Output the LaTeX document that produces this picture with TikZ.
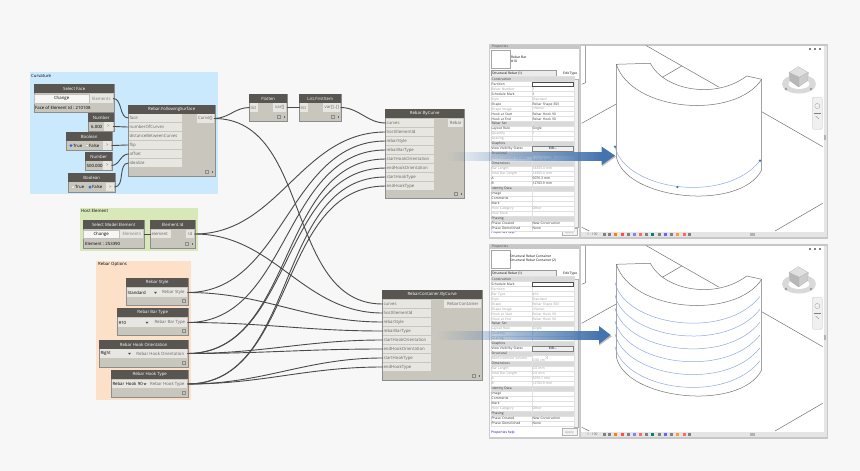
\documentclass[tikz,border=0pt]{standalone}
\usepackage{fontspec}
\setmainfont{Open Sans}
\usetikzlibrary{fadings}
\definecolor{pagec}{HTML}{F7F7F7}
\definecolor{headc}{HTML}{595652}
\definecolor{bodyc}{HTML}{C9C6BD}
\definecolor{portc}{HTML}{E7E6E1}
\definecolor{wirec}{HTML}{4A4A48}
\definecolor{curvec}{HTML}{CBE9FD}
\definecolor{hostc}{HTML}{D9E8B8}
\definecolor{optionc}{HTML}{FDE0C8}
\definecolor{secc}{HTML}{D9D9D9}
\definecolor{offc}{HTML}{9A9A9A}
\definecolor{onc}{HTML}{333333}
\definecolor{rebarc}{HTML}{8FA9E6}
\definecolor{arrowc}{HTML}{4474AE}
\tikzset{
  dyntext/.style={font=\fontsize{4.3}{5}\selectfont},
  dynbody/.style={draw=black!45, line width=0.4pt, fill=bodyc, anchor=north west, inner sep=0pt},
  dynhead/.style={fill=headc, text=white, dyntext, anchor=north west, inner sep=0pt, minimum height=9pt},
  port/.style={fill=portc, text=black!60, dyntext, inner sep=0.8pt, minimum height=8.4pt, anchor=west},
  inport/.style={port, text width=#1, align=left},
  outport/.style={port, anchor=east},
  drop/.style={fill=portc, text=black, dyntext, inner sep=0.8pt, minimum height=8.4pt, anchor=west, text width=#1},
  button/.style={fill=white!85!bodyc, draw=black!25, line width=0.2pt, text=black, dyntext, inner sep=0pt, minimum height=8.4pt, anchor=west},
  plain/.style={text=black, dyntext, inner sep=0pt, anchor=west},
  radio/.style={circle, draw=black!40, line width=0.2pt, inner sep=0pt, minimum size=3pt},
  groupbox/.style={anchor=north west, inner sep=0pt},
  wire/.style={draw=wirec, line width=0.9pt},
  link/.style={out=0, in=180},
  lace/.style={draw=black!45, line width=0.25pt, inner sep=0pt, minimum size=2.6pt},
  proptext/.style={font=\fontsize{3.3}{4}\selectfont},
  propcell/.style={proptext, draw=black!12, line width=0.15pt, inner sep=0.6pt, minimum height=4.97pt, text depth=0pt, anchor=west, align=left},
  viewline/.style={draw=black!55, line width=0.5pt},
  rebarline/.style={draw=rebarc, line width=0.5pt},
}
\newcommand{\dynnode}[6]{
  \node[dynbody, minimum width=#4pt, minimum height=#5pt] (#1) at (#2,#3) {};
  \node[dynhead, minimum width=#4pt] (#1head) at (#1.north west) {#6};
}
\newcommand{\lacemark}[1]{
  \node[lace] (#1lace) at ([xshift=-5pt,yshift=4.5pt]#1.south east) {};
}
\newcommand{\lacetick}[1]{
  \node[lace] (#1lace) at ([xshift=-9pt,yshift=4.5pt]#1.south east) {};
  \draw[black!60, line width=0.4pt] ([xshift=-3pt,yshift=3.3pt]#1.south east) -- ([xshift=-3pt,yshift=5.7pt]#1.south east);
}
\begin{document}
\begin{tikzpicture}[x=1pt, y=-1pt]
\useasboundingbox (0,0) rectangle (860,471);
\fill[pagec] (0,0) rectangle (860,471);

% groups
\node[groupbox, fill=curvec, minimum width=188pt, minimum height=122pt] (curvature) at (30,72) {};
\node[plain] (curvatureLabel) at (31,75.5) {Curvature};
\node[groupbox, fill=hostc, minimum width=118pt, minimum height=43pt] (host) at (80,208) {};
\node[plain] (hostLabel) at (81,210.5) {Host Element};
\node[groupbox, fill=optionc, minimum width=95pt, minimum height=139pt] (options) at (96,261) {};
\node[plain] (optionsLabel) at (98,264) {Rebar Options};

% curvature nodes
\dynnode{selFace}{34}{84}{80}{28}{Select Face}
\node[button, minimum width=55pt] (selFaceBtn) at (34,98.5) {Change};
\node[outport, text=black!50, minimum width=23pt] (selFaceOut) at (113,98.5) {Elements};
\node[plain] (selFaceInfo) at (35,107.5) {Face of Element Id : 210108};

\dynnode{numA}{88}{113}{26}{18}{Number}
\node[plain] (numAVal) at (91,126.5) {6.000};
\node[outport, minimum width=9pt] (numAOut) at (113,126.5) {>};

\dynnode{boolA}{66}{132}{46}{18}{Boolean}
\node[radio, fill=blue!60!cyan] (boolAt) at (71,145.5) {};
\node[plain] (boolAtText) at (73,145.5) {True};
\node[radio, fill=white] (boolAf) at (87,145.5) {};
\node[plain] (boolAfText) at (89,145.5) {False};
\node[outport, minimum width=8pt] (boolAOut) at (111.5,145.5) {>};

\dynnode{numB}{85}{152}{27}{18}{Number}
\node[plain] (numBVal) at (86.5,165.5) {500.000};
\node[outport, minimum width=8pt] (numBOut) at (111.5,165.5) {>};

\dynnode{boolB}{68}{173}{47}{19}{Boolean}
\node[radio, fill=white] (boolBt) at (73,187) {};
\node[plain] (boolBtText) at (75,187) {True};
\node[radio, fill=blue!60!cyan] (boolBf) at (90,187) {};
\node[plain] (boolBfText) at (92,187) {False};
\node[outport, minimum width=8pt] (boolBOut) at (114.5,187) {>};

\dynnode{follow}{128}{105}{87}{71}{Rebar.FollowingSurface}
\foreach \t [count=\i] in {face,numberOfCurves,distanceBetweenCurves,flip,offset,idealize}
  \node[inport=52pt] (fs\i) at (128.5,{109+9*\i}) {\t};
\node[outport, minimum width=17pt] (followOut) at (214,118.5) {Curve[]};
\lacetick{follow}

% host nodes
\dynnode{selEl}{83}{220}{61}{28}{Select Model Element}
\node[button, minimum width=36pt] (selElBtn) at (83,234) {Change};
\node[outport, text=black!50, minimum width=23pt] (selElOut) at (143.5,234) {Elements};
\node[plain] (selElInfo) at (85,243.5) {Element : 253390};

\dynnode{elId}{150}{220}{45}{28}{Element.Id}
\node[inport=19pt] (elIdIn) at (150.5,234) {element};
\node[outport, minimum width=8pt] (elIdOut) at (194.5,234) {Id};
\lacetick{elId}

% option nodes
\dynnode{style}{126}{278}{62}{27}{Rebar Style}
\node[drop=31pt] (styleDrop) at (126.5,292.5) {Standard};
\node[outport, minimum width=28pt] (styleOut) at (187.5,292.5) {Rebar Style};
\lacemark{style}

\dynnode{barType}{117}{308}{71}{27}{Rebar Bar Type}
\node[drop=33pt] (barTypeDrop) at (117.5,322.5) {\#10};
\node[outport, minimum width=35pt] (barTypeOut) at (187.5,322.5) {Rebar Bar Type};
\lacemark{barType}

\dynnode{hookOr}{99}{340}{89}{27}{Rebar Hook Orientation}
\node[drop=32pt] (hookOrDrop) at (99.5,353.5) {Right};
\node[outport, minimum width=54pt] (hookOrOut) at (187.5,353.5) {Rebar Hook Orientation};
\lacemark{hookOr}

\dynnode{hookTy}{111}{370}{77}{27}{Rebar Hook Type}
\node[drop=35pt] (hookTyDrop) at (111.5,384) {Rebar Hook 90};
\node[outport, minimum width=40pt] (hookTyOut) at (187.5,384) {Rebar Hook Type};
\lacemark{hookTy}

\foreach \x/\y in {154/292.5,145.5/322.5,128/353.5,143.5/384}
  \fill[black!75] (\x,\y-0.7) -- ++(3,0) -- ++(-1.5,1.8) -- cycle;

% list nodes
\dynnode{flatten}{249}{94}{38}{27}{Flatten}
\node[inport=7pt] (flatIn) at (249.5,107.5) {list};
\node[outport, minimum width=13pt] (flatOut) at (286.5,107.5) {var[]};
\lacetick{flatten}

\dynnode{first}{299}{94}{42}{27}{List.FirstItem}
\node[inport=7pt] (firstIn) at (299.5,107.5) {list};
\node[outport, minimum width=17pt] (firstOut) at (340.5,107.5) {var[]..[]};
\lacetick{first}

% rebar nodes
\dynnode{byCurve}{385}{109}{79}{89}{Rebar.ByCurve}
\foreach \t [count=\i] in {curves,hostElementId,rebarStyle,rebarBarType,startHookOrientation,endHookOrientation,startHookType,endHookType}
  \node[inport=47pt] (bc\i) at (385.5,{114+9*\i}) {\t};
\node[outport, minimum width=15pt] (byCurveOut) at (463.5,123) {Rebar};
\lacetick{byCurve}

\dynnode{container}{382}{290}{100}{90}{RebarContainer.ByCurve}
\foreach \t [count=\i] in {curves,hostElementId,rebarStyle,rebarBarType,startHookOrientation,endHookOrientation,startHookType,endHookType}
  \node[inport=47pt] (rc\i) at (382.5,{295+9*\i}) {\t};
\node[outport, minimum width=37pt] (containerOut) at (481.5,304) {RebarContainer};
\lacetick{container}

% wires
\foreach \a/\b in {selFaceOut/fs1,numAOut/fs2,boolAOut/fs4,numBOut/fs5,boolBOut/fs6,
    followOut/flatIn,followOut/rc1,flatOut/firstIn,firstOut/bc1,selElOut/elIdIn,
    elIdOut/bc2,elIdOut/rc2,styleOut/bc3,styleOut/rc3,barTypeOut/bc4,barTypeOut/rc4,
    hookOrOut/bc5,hookOrOut/bc6,hookOrOut/rc5,hookOrOut/rc6,
    hookTyOut/bc7,hookTyOut/bc8,hookTyOut/rc7,hookTyOut/rc8}
  \draw[wire] (\a.east) to[link] (\b.west);

% property panels
\foreach \py in {45,245} {
  \fill[black!20] (489,\py-1) rectangle (580.5,\py+193.5);
  \fill[white] (490,\py) rectangle (579,\py+192);
  \fill[black!22] (490,\py) rectangle (579,\py+4);
  \draw[black!35, line width=0.2pt] (491,\py+5) rectangle (510,\py+23);
  \draw[black!40, line width=0.2pt, fill=black!8] (491,\py+25.5) rectangle (556,\py+31);
  \draw[black!30, line width=0.2pt, fill=black!6] (574.5,\py+34) rectangle (578,\py+182);
  \draw[black!30, line width=0.2pt, fill=black!4] (562,\py+183.5) rectangle (577,\py+190);
}
\node[proptext, text=black!70, anchor=west, inner sep=0pt] (propsA) at (492,47) {Properties};
\node[proptext, text=black!70, anchor=west, inner sep=0pt] (propsB) at (492,247) {Properties};
\node[proptext, anchor=west, inner sep=0pt, align=left] (typeA) at (511,59) {Rebar Bar\\\#10};
\node[proptext, anchor=west, inner sep=0pt, align=left] (typeB) at (510,259) {Structural Rebar Container\\Structural Rebar Container (2)};
\node[proptext, anchor=west, inner sep=0pt] (filterA) at (492,73.7) {Structural Rebar (1)};
\node[proptext, anchor=west, inner sep=0pt] (filterB) at (492,273.7) {Structural Rebar (1)};
\node[proptext, anchor=west, inner sep=0pt] (editA) at (563,73.7) {Edit Type};
\node[proptext, anchor=west, inner sep=0pt] (editB) at (563,273.7) {Edit Type};
\node[proptext, text=blue!70!black, anchor=west, inner sep=0pt] (helpA) at (491,232.5) {Properties help};
\node[proptext, text=blue!70!black, anchor=west, inner sep=0pt] (helpB) at (491,432.5) {Properties help};
\node[proptext, text=offc, inner sep=0pt] (applyA) at (569.5,232.5) {Apply};
\node[proptext, text=offc, inner sep=0pt] (applyB) at (569.5,432.5) {Apply};

\foreach \lab/\val/\tc/\bg [count=\i from 0] in {
    Construction//onc/secc, Partition//onc/white, Rebar Number/1/offc/white, Schedule Mark/1/onc/white,
    Style/Standard/offc/white, Shape/Rebar Shape E03/onc/white, Shape Image/<None>/offc/white,
    Hook at Start/Rebar Hook 90/onc/white, Hook at End/Rebar Hook 90/onc/white,
    Rebar Set//onc/secc, Layout Rule/Single/onc/white, Quantity/1/offc/white, Spacing//offc/white,
    Graphics//onc/secc, View Visibility States//onc/white, Structural//onc/secc,
    Reinforcement Volume/1430.13 cm$^3$/offc/white, Dimensions//onc/secc,
    Bar Length/14303.4 mm/offc/white, Total Bar Length/14303.4 mm/offc/white, A/5076.3 mm/onc/white, B/12703.9 mm/onc/white,
    Identity Data//onc/secc, Image//onc/white, Comments//onc/white, Mark//onc/white,
    Host Category/Other/offc/white, Host Mark//offc/white,
    Phasing//onc/secc, Phase Created/New Construction/onc/white, Phase Demolished/None/onc/white} {
  \node[propcell, text=\tc, fill=\bg, text width=39.6pt] (aKey\i) at (491,{79+4.97*\i}) {\lab};
  \node[propcell, text=\tc, fill=\bg, text width=40.6pt] (aVal\i) at (532,{79+4.97*\i}) {\val};
}
\foreach \lab/\val/\tc/\bg [count=\i from 0] in {
    Construction//onc/secc, Schedule Mark//onc/white, Partition//offc/white, Bar Type/\#10/offc/white,
    Style/Standard/offc/white, Shape/Rebar Shape E03/offc/white, Shape Image/<None>/offc/white,
    Hook at Start/Rebar Hook 90/offc/white, Hook at End/Rebar Hook 90/offc/white,
    Rebar Set//onc/secc, Layout Rule/Single/offc/white, Quantity/1/offc/white, Spacing//offc/white,
    Graphics//onc/secc, View Visibility States//onc/white, Structural//onc/secc,
    Reinforcement Volume/0.00 cm$^3$/offc/white, Dimensions//onc/secc,
    Bar Length/0.0 mm/offc/white, Total Bar Length/0.0 mm/offc/white, A/5076.1 mm/offc/white, B/12703.9 mm/offc/white,
    Identity Data//onc/secc, Image//onc/white, Comments//onc/white, Mark//onc/white,
    Host Category/Other/offc/white,
    Phasing//onc/secc, Phase Created/New Construction/onc/white, Phase Demolished/None/onc/white} {
  \node[propcell, text=\tc, fill=\bg, text width=39.6pt] (bKey\i) at (491,{279+4.97*\i}) {\lab};
  \node[propcell, text=\tc, fill=\bg, text width=40.6pt] (bVal\i) at (532,{279+4.97*\i}) {\val};
}
\node[proptext, draw=black!50, fill=black!6, line width=0.2pt, minimum width=41pt, minimum height=4.5pt, inner sep=0pt] (editVisA) at (553,148.6) {Edit...};
\node[proptext, draw=black!50, fill=black!6, line width=0.2pt, minimum width=41pt, minimum height=4.5pt, inner sep=0pt] (editVisB) at (553,348.6) {Edit...};
\node[draw=black!70, line width=0.35pt, minimum width=41pt, minimum height=4pt, inner sep=0pt] (cellA) at (553,84) {};
\node[draw=black!70, line width=0.35pt, minimum width=41pt, minimum height=4pt, inner sep=0pt] (cellB) at (553,284) {};

% viewports
\foreach \dy in {0,200} {
  \begin{scope}[shift={(0,\dy)}]
    \fill[black!22] (580,44) rectangle (828,238.5);
    \fill[white] (581,45.5) rectangle (823.5,232);
    \fill[black!10] (823.5,45.5) rectangle (826.5,237);
    \fill[black!10] (581,232) rectangle (826.5,237);
    \fill[black!30] (824,135) rectangle (826,140);
    \fill[black!30] (750,233) rectangle (755,236);
    % floor
    \draw[viewline] (646,45.5) -- (719.3,87.3);
    \draw[viewline] (662.3,77.3) -- (681.7,66);
    \draw[viewline] (581.7,123.3) -- (616.3,104);
    \draw[viewline] (761.7,111.7) -- (822.7,146.7);
    \draw[viewline] (775,231) -- (822.7,203.3);
    \draw[viewline] (581.7,227.3) -- (589.3,231);
    \draw[viewline] (585.7,45.5) -- (585.7,82.7) -- (581.7,84.3);
    % wall
    \draw[viewline] (616.3,156.7) -- (616.3,64.3) -- (650.3,63.3)
      .. controls (664,90) and (715,100) .. (746.7,76) -- (761.7,79.3) -- (761.7,170)
      .. controls (740,212) and (625,200) .. (616.3,156.7);
    \draw[viewline] (616.3,64.3) .. controls (632,112) and (735,120) .. (761.7,79.3);
    % cube
    \fill[black!15] (799,84) ellipse (17 and 9.5);
    \fill[white] (799,84) ellipse (10.5 and 5);
    \fill[black!25] (789.5,76) -- (798.5,82) -- (798,87) -- (790,81) -- cycle;
    \draw[black!30, line width=0.2pt, fill=black!12] (789,72.5) -- (798.5,66.7) -- (808.3,72.5) -- (799,77.3) -- cycle;
    \draw[black!30, line width=0.2pt, fill=black!28] (789,72.5) -- (799,77.3) -- (799,86.7) -- (790,80.7) -- cycle;
    \draw[black!30, line width=0.2pt, fill=black!20] (799,77.3) -- (808.3,72.5) -- (807.7,80.7) -- (799,86.7) -- cycle;
    \fill[black!40] (786,89) circle (1.4);
    \fill[black!40] (811,89) circle (1.4);
    % navigation bar
    \draw[black!25, line width=0.3pt, fill=black!6, rounded corners=1.5pt] (812.3,97.3) rectangle (822.3,129.3);
    \draw[black!40, line width=0.3pt] (817.3,106) circle (2.6);
    \draw[black!50, line width=0.3pt] (815.5,116) -- (819,119);
    \draw[black!50, line width=0.3pt] (813.5,113) -- (821,113);
    % window controls
    \foreach \wx in {810,815,820}
      \fill[black!50] (\wx-1.3,48) rectangle (\wx+1.3,50);
    % status bar
    \foreach \tx/\tc in {604/gray,609/gray,615/orange,622/red!70,628/gray,634/blue!50,640/red!60,646/gray,652/teal,659/black!50,665/blue!60,671/gray,677/orange!80,684/red!60,689/gray}
      \fill[\tc] (\tx-1.5,232.7) rectangle (\tx+1.5,235.5);
  \end{scope}
}
\node[proptext, text=black!60, anchor=west, inner sep=0pt] (scaleA) at (587,234) {1 : 100};
\node[proptext, text=black!60, anchor=west, inner sep=0pt] (scaleB) at (587,434) {1 : 100};

% rebar curves
\draw[rebarline] (615,146.7) .. controls (625,190) and (725,205) .. (760,160.7);
\fill[arrowc] (615,146.7) circle (1.3);
\fill[arrowc] (677.3,187) circle (1.3);
\fill[arrowc] (760,160.7) circle (1.3);
\foreach \n in {0,...,5}
  \draw[rebarline] (615,{346.7-12.85*\n}) .. controls (625,{390-12.85*\n}) and (725,{405-12.85*\n}) .. (760,{360.7-12.85*\n});

% arrows
\fill[arrowc, path fading=west] (447,151.5) rectangle (602,160.7);
\fill[black, opacity=0.25] (602,148) -- (616,156.5) -- (602,166.5) -- cycle;
\fill[arrowc] (601.7,146.7) -- (615,155.5) -- (601.7,165) -- cycle;
\fill[arrowc, path fading=west] (437,330.7) rectangle (599.5,340);
\fill[black, opacity=0.25] (599,327.5) -- (612,336.5) -- (599,345.5) -- cycle;
\fill[arrowc] (599,326) -- (610.7,335) -- (599,344) -- cycle;
\end{tikzpicture}
\end{document}
